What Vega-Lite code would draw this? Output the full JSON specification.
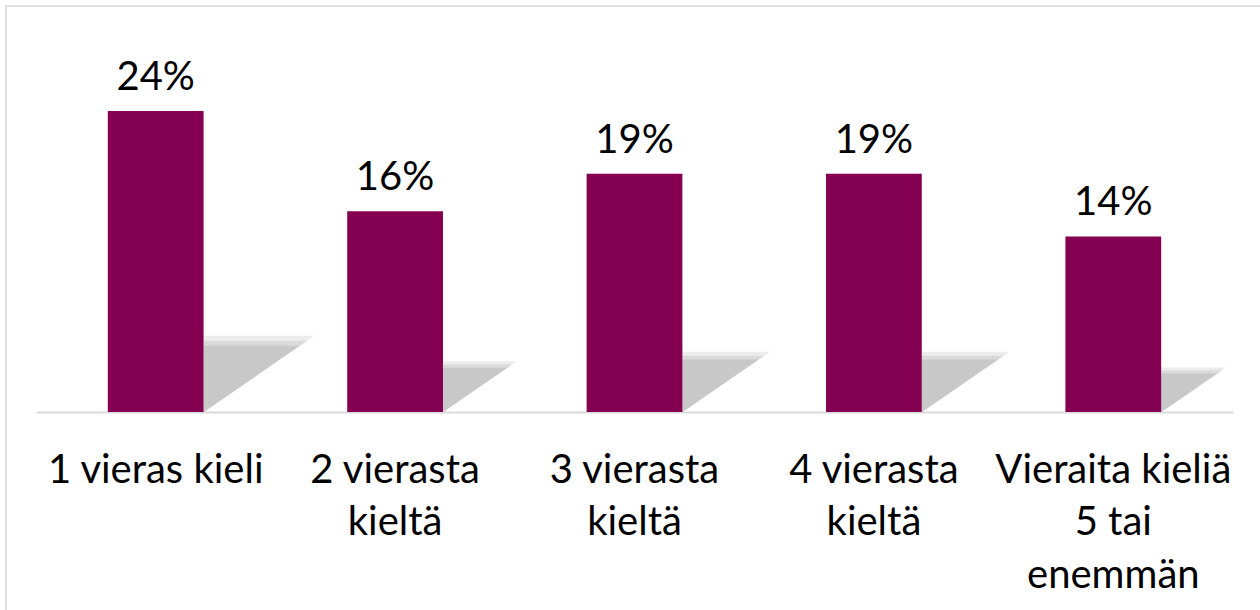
{
  "$schema": "https://vega.github.io/schema/vega-lite/v6.json",
  "width": 1254,
  "height": 604,
  "padding": {"left": 6, "top": 6, "right": 0, "bottom": 0},
  "config": {
    "view": {"stroke": "#e0e0e0", "strokeWidth": 2, "strokeDash": [1254, 1858, 606, 10]},
    "font": "Lato"
  },
  "data": {
    "values": [
      {"kategoria": "1 vieras kieli", "osuus": 0.24},
      {"kategoria": "2 vierasta\nkieltä", "osuus": 0.16},
      {"kategoria": "3 vierasta\nkieltä", "osuus": 0.19},
      {"kategoria": "4 vierasta\nkieltä", "osuus": 0.19},
      {"kategoria": "Vieraita kieliä\n5 tai\nenemmän", "osuus": 0.14}
    ]
  },
  "encoding": {
    "x": {
      "field": "kategoria",
      "type": "nominal",
      "sort": null,
      "scale": {"range": [30, 1227], "paddingInner": 0.6, "paddingOuter": 0.3},
      "axis": {
        "orient": "bottom",
        "offset": -198,
        "labelAngle": 0,
        "ticks": false,
        "grid": false,
        "title": null,
        "domainColor": "#d9d9d9",
        "domainWidth": 2,
        "labelFont": "Lato",
        "labelFontSize": 40,
        "labelColor": "#000000",
        "labelPadding": 38,
        "labelBaseline": "top",
        "labelLineHeight": 52.5,
        "labelLimit": 0,
        "labelOverlap": false,
        "labelExpr": "split(datum.label, '\\n')"
      }
    },
    "y": {
      "field": "osuus",
      "type": "quantitative",
      "scale": {"domain": [0, 0.3237], "range": [406, 0], "nice": false, "zero": true},
      "axis": null
    }
  },
  "layer": [
    {
      "mark": {"type": "point", "shape": "M0,0L0,-1.15L1.67,-1.15Z", "filled": true, "fill": "#ececec", "opacity": 1, "strokeWidth": 0, "xOffset": 48},
      "encoding": {
        "y": {"datum": 0},
        "size": {"field": "osuus", "type": "quantitative", "scale": {"type": "pow", "exponent": 2, "domain": [0, 0.3], "range": [0, 27400]}, "legend": null}
      }
    },
    {
      "mark": {"type": "point", "shape": "M0,0L0,-1.075L1.56,-1.075Z", "filled": true, "fill": "#dadada", "opacity": 1, "strokeWidth": 0, "xOffset": 48},
      "encoding": {
        "y": {"datum": 0},
        "size": {"field": "osuus", "type": "quantitative", "scale": {"type": "pow", "exponent": 2, "domain": [0, 0.3], "range": [0, 27400]}, "legend": null}
      }
    },
    {
      "mark": {"type": "point", "shape": "M0,0L0,-1L1.45,-1Z", "filled": true, "fill": "#c8c8c8", "opacity": 1, "strokeWidth": 0, "xOffset": 48},
      "encoding": {
        "y": {"datum": 0},
        "size": {"field": "osuus", "type": "quantitative", "scale": {"type": "pow", "exponent": 2, "domain": [0, 0.3], "range": [0, 27400]}, "legend": null}
      }
    },
    {
      "mark": {"type": "bar", "color": "#840050"}
    },
    {
      "mark": {"type": "text", "baseline": "alphabetic", "dy": -21, "fontSize": 40, "color": "#000000", "font": "Lato"},
      "encoding": {"text": {"field": "osuus", "type": "quantitative", "format": ".0%"}}
    }
  ]
}
